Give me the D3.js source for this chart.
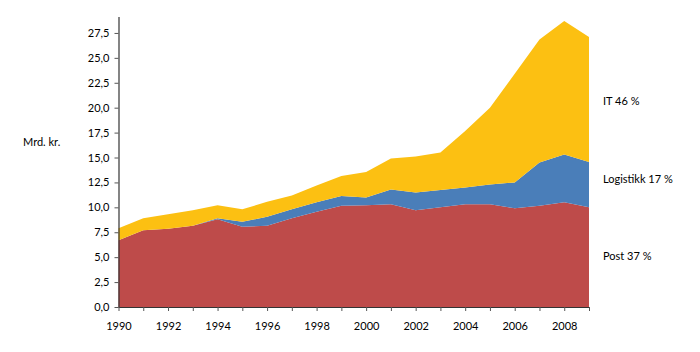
<!DOCTYPE html>
<html>
<head>
<meta charset="utf-8">
<script src="https://cdn.jsdelivr.net/npm/d3@7"></script>
<style>
  body { margin: 0; background: #fff; }
  text { font-family: Lato, "Open Sans", sans-serif; fill: #000; }
</style>
</head>
<body>
<div id="chart"></div>
<script>
// data (mrd. kr.)
var years = d3.range(1990, 2010);
var post = [6.7, 7.7, 7.85, 8.15, 8.8, 8.05, 8.15, 8.9, 9.55, 10.15, 10.2, 10.3, 9.7, 10.0, 10.3, 10.3, 9.9, 10.15, 10.5, 10.0];
var logistikk = [0, 0, 0, 0, 0.1, 0.5, 0.9, 0.9, 0.95, 1.0, 0.8, 1.5, 1.8, 1.75, 1.7, 2.0, 2.6, 4.35, 4.8, 4.55];
var it = [1.2, 1.2, 1.45, 1.55, 1.3, 1.25, 1.5, 1.4, 1.7, 2.0, 2.55, 3.1, 3.6, 3.75, 5.65, 7.7, 10.9, 12.35, 13.4, 12.55];
var seriesKeys = ["post", "logistikk", "it"];
var seriesLabels = ["Post 37 %", "Logistikk 17 %", "IT 46 %"];
var seriesColors = ["#be4b4a", "#4a7eb9", "#fcc012"];
var yTicks = d3.range(0, 27.6, 2.5);

// formatting parameters
var width = 700;
var height = 352;
var margin = { top: 17, bottom: 45, left: 118.5, right: 111 };
var innerW = width - margin.left - margin.right;
var innerH = height - margin.top - margin.bottom;

var svg = d3.select("#chart")
    .append("svg")
    .attr("width", width)
    .attr("height", height);

var g = svg.append("g")
    .attr("transform", "translate(" + margin.left + "," + margin.top + ")");

var x = d3.scaleLinear().domain([1990, 2009]).range([0, innerW]);
var y = d3.scaleLinear().domain([0, 29.1]).range([innerH, 0]);

// build table for the stack
var table = years.map(function (yr, i) {
    return { year: yr, post: post[i], logistikk: logistikk[i], it: it[i] };
});
var stacked = d3.stack().keys(seriesKeys)(table);

var area = d3.area()
    .x(function (d) { return x(d.data.year); })
    .y0(function (d) { return y(d[0]); })
    .y1(function (d) { return y(d[1]); });

g.selectAll(".layer")
    .data(stacked)
    .enter()
    .append("path")
    .attr("class", "layer")
    .attr("fill", function (d, i) { return seriesColors[i]; })
    .attr("d", area);

// y axis
var yAxis = d3.axisLeft(y)
    .tickValues(yTicks)
    .tickSize(4)
    .tickPadding(5)
    .tickFormat(function (d) { return d3.format(".1f")(d).replace(".", ","); });
var yg = g.append("g").call(yAxis);
yg.select(".domain").attr("d", "M0.5," + innerH + "V0").attr("stroke", "#333").attr("stroke-width", 1.2);
yg.selectAll(".tick line").attr("stroke", "#555");
yg.selectAll("text").style("font-size", "11px").attr("fill", "#000");

// x axis
var xAxis = d3.axisBottom(x)
    .tickValues(years)
    .tickSize(4)
    .tickPadding(11)
    .tickFormat(function (d) { return d % 2 === 0 && d < 2009 ? d : ""; });
var xg = g.append("g")
    .attr("transform", "translate(0," + innerH + ")")
    .call(xAxis);
xg.select(".domain").attr("d", "M0," + 0.5 + "H" + innerW).attr("stroke", "#333").attr("stroke-width", 1.2);
xg.selectAll(".tick line").attr("stroke", "#555");
xg.selectAll("text").style("font-size", "11px").attr("fill", "#000");

// y label
svg.append("text")
    .attr("x", 23)
    .attr("y", 146)
    .style("font-size", "11px")
    .text("Mrd. kr.");

// series labels at the right end
var labelY = [256, 179.5, 101.5];
seriesLabels.forEach(function (lab, i) {
    svg.append("text")
        .attr("x", 603)
        .attr("y", labelY[i])
        .attr("dy", "0.35em")
        .style("font-size", "11px")
        .text(lab);
});
</script>
</body>
</html>
